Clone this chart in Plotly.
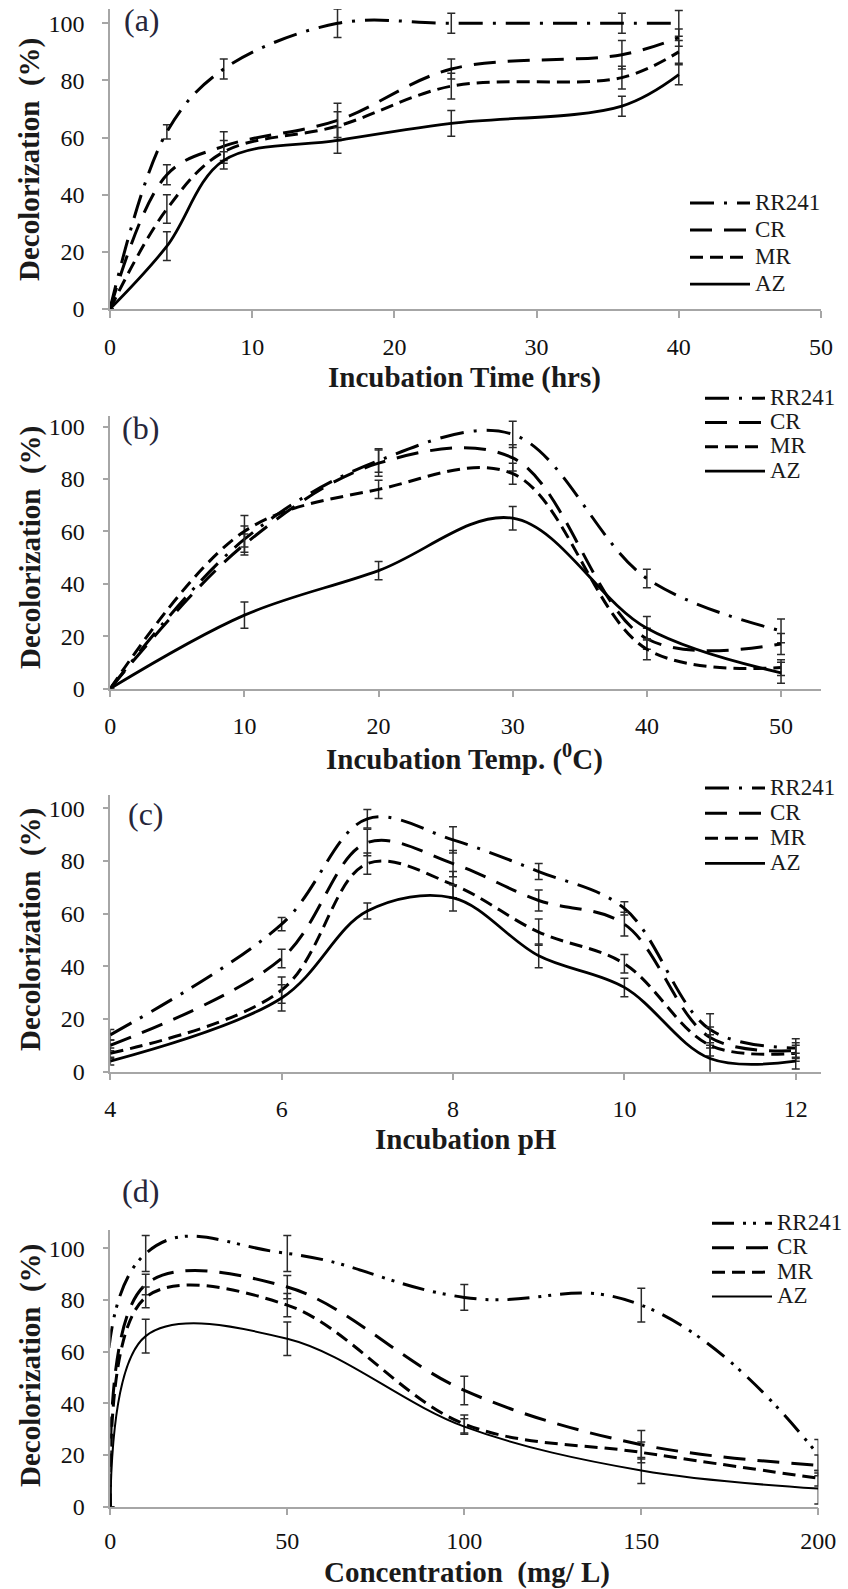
import plotly.graph_objects as go

# ---------------- data ----------------
series_names = ["RR241", "CR", "MR", "AZ"]

time_h = [0, 4, 8, 16, 24, 36, 40]
a_rr241 = [0, 62, 84, 100, 100, 100, 100]
a_rr241_err = [None, 2.5, 3.5, 5, 3.5, 3.5, 4.5]
a_cr = [0, 47, 57, 66, 84, 89, 95]
a_cr_err = [None, 3.5, 5, 6, 3.5, 5, 3]
a_mr = [0, 35, 55, 64, 78, 81, 90]
a_mr_err = [None, 5, 4, 5, 4.5, 4, 4]
a_az = [0, 22, 52, 59, 65, 71, 82]
a_az_err = [None, 5, 3, 4.5, 4.5, 3.5, 3.5]

temp_c = [0, 10, 20, 30, 40, 50]
b_rr241 = [0, 57, 87, 97, 42, 22]
b_rr241_err = [None, 5, 4.5, 5, 3.5, 4.5]
b_cr = [0, 55, 86, 88, 19, 17]
b_cr_err = [None, 4, 5, 5, 4, 4]
b_mr = [0, 60, 76, 82, 15, 8]
b_mr_err = [None, 6, 3.5, 4, 4, 3]
b_az = [0, 28, 45, 65, 23, 6]
b_az_err = [None, 5, 3.5, 4.5, 4.5, 4]

ph = [4, 6, 7, 8, 9, 10, 11, 12]
c_rr241 = [14, 56, 96, 88, 76, 62, 16, 9]
c_rr241_err = [2, 2.5, 3.5, 5, 3, 2.5, 6, 3.5]
c_cr = [10, 43, 87, 79, 65, 56, 13, 8]
c_cr_err = [2, 3.5, 5, 5, 4, 4.5, 4, 3]
c_mr = [7, 31, 79, 71, 53, 41, 10, 7]
c_mr_err = [2, 5, 4, 5, 5, 3.5, 4, 3]
c_az = [4, 28, 61, 66, 44, 32, 5, 4]
c_az_err = [1.5, 5, 3, 5, 4.5, 3.5, 6, 3]

conc = [0, 10, 50, 100, 150, 200]
d_rr241 = [0, 98, 98, 81, 78, 20]
d_rr241_err = [None, 7, 7, 5, 6.5, 6]
d_cr = [0, 86, 85, 45, 24, 16]
d_cr_err = [None, 4, 4.5, 5.5, 5.5, 4]
d_mr = [0, 81, 78, 32, 21, 11]
d_mr_err = [None, 4, 4.5, 3.5, 4, 3]
d_az = [0, 66, 65, 31, 14, 7]
d_az_err = [None, 6.5, 6.5, 3, 5, 6]

panel_labels = ["(a)", "(b)", "(c)", "(d)"]
x_titles = ["Incubation Time (hrs)", "Incubation Temp. (<sup>0</sup>C)",
            "Incubation pH", "Concentration  (mg/ L)"]
y_title = "Decolorization  (%)"

# ---------------- layout geometry (pixels) ----------------
W, H = 848, 1589
SERIF = "Liberation Serif"

panels = [
    dict(x=time_h, ys=[a_rr241, a_cr, a_mr, a_az], es=[a_rr241_err, a_cr_err, a_mr_err, a_az_err],
         xl=110, xr=821, xrange=[0, 50], dtick=10, tick0=0,
         ybot=309, ppu=2.857, ymax=105, xstand=8, azw=2.8,
         leg=(685, 184.5, 18.5), lab=(142, 20), xt=(464, 378), yt=160,
         rrdash="24px,10px,3px,10px", rrsmooth=1.0),
    dict(x=temp_c, ys=[b_rr241, b_cr, b_mr, b_az], es=[b_rr241_err, b_cr_err, b_mr_err, b_az_err],
         xl=110.3, xr=820.6, xrange=[0, 52.95], dtick=10, tick0=0,
         ybot=688.5, ppu=2.62, ymax=104, xstand=8, azw=2.8,
         leg=(700, 381, 16.4), lab=(140, 428), xt=(465, 757), yt=548,
         rrdash="24px,10px,3px,10px", rrsmooth=1.0),
    dict(x=ph, ys=[c_rr241, c_cr, c_mr, c_az], es=[c_rr241_err, c_cr_err, c_mr_err, c_az_err],
         xl=110.3, xr=820.6, xrange=[4, 12.29], dtick=2, tick0=4,
         ybot=1071.7, ppu=2.634, ymax=105, xstand=8, azw=2.8,
         leg=(700, 770.5, 17), lab=(146, 814), xt=(466, 1139), yt=930,
         rrdash="24px,10px,3px,10px", rrsmooth=1.0),
    dict(x=conc, ys=[d_rr241, d_cr, d_mr, d_az], es=[d_rr241_err, d_cr_err, d_mr_err, d_az_err],
         xl=110.3, xr=818.3, xrange=[0, 200], dtick=50, tick0=0,
         ybot=1506.7, ppu=2.584, ymax=107, xstand=5, azw=2.0,
         leg=(707, 1206, 16.5), lab=(140, 1191), xt=(467, 1572), yt=1366,
         rrdash="22px,9px,3px,7px,3px,9px", rrsmooth=1.3),
]

dashes = [None, "22px,12px", "13px,7px", "solid"]

fig = go.Figure()
layout = dict(width=W, height=H, autosize=False,
              margin=dict(l=0, r=0, t=0, b=0, autoexpand=False),
              paper_bgcolor="white", plot_bgcolor="white",
              showlegend=True, annotations=[])

axis_common = dict(showline=True, linecolor="#a6a6a6", linewidth=1.5,
                   ticks="outside", tickcolor="#a6a6a6", tickwidth=1.5,
                   showgrid=False, zeroline=False, fixedrange=True,
                   tickfont=dict(family=SERIF, size=24, color="#111111"))

for i, p in enumerate(panels):
    k = "" if i == 0 else str(i + 1)
    xa, ya = "x" + k, "y" + k
    legname = "legend" + k
    ytop = p["ybot"] - p["ymax"] * p["ppu"]
    layout["xaxis" + k] = dict(axis_common, domain=[p["xl"] / W, p["xr"] / W],
                               range=p["xrange"], dtick=p["dtick"], tick0=p["tick0"],
                               anchor=ya, ticklen=7, ticklabelstandoff=p["xstand"])
    layout["yaxis" + k] = dict(axis_common, domain=[1 - p["ybot"] / H, 1 - ytop / H],
                               range=[0, p["ymax"]], dtick=20, tick0=0,
                               anchor=xa, ticklen=6, ticklabelstandoff=13)
    lx, ly, lfs = p["leg"]
    layout[legname] = dict(x=lx / W, y=1 - ly / H, xanchor="left", yanchor="top",
                           bgcolor="rgba(0,0,0,0)", borderwidth=0,
                           font=dict(family=SERIF, size=lfs, color="#1a1a1a"),
                           itemwidth=60, tracegroupgap=0)
    widths = [3, 3, 3, p["azw"]]
    for j, name in enumerate(series_names):
        dash = p["rrdash"] if j == 0 else dashes[j]
        smooth = p["rrsmooth"] if j == 0 else 1.0
        fig.add_trace(go.Scatter(
            x=p["x"], y=p["ys"][j], xaxis=xa, yaxis=ya,
            mode="lines", line=dict(color="black", width=widths[j], dash=dash,
                                    shape="spline", smoothing=smooth),
            error_y=dict(type="data", array=p["es"][j], visible=True,
                         color="#2a2a2a", thickness=1.5, width=4),
            name='<span style="font-size:23px">' + name + '</span>',
            legend=legname, showlegend=True))
    layout["annotations"].append(dict(
        text=panel_labels[i], xref="paper", yref="paper",
        x=p["lab"][0] / W, y=1 - p["lab"][1] / H, xanchor="center", yanchor="middle",
        showarrow=False, font=dict(family=SERIF, size=32, color="#26263a")))
    layout["annotations"].append(dict(
        text=x_titles[i], xref="paper", yref="paper",
        x=p["xt"][0] / W, y=1 - p["xt"][1] / H, xanchor="center", yanchor="middle",
        showarrow=False, font=dict(family=SERIF, size=29, color="#1a1a1a", weight="bold")))
    layout["annotations"].append(dict(
        text=y_title, xref="paper", yref="paper", textangle=-90,
        x=30 / W, y=1 - p["yt"] / H, xanchor="center", yanchor="middle",
        showarrow=False, font=dict(family=SERIF, size=29, color="#1a1a1a", weight="bold")))

fig.update_layout(**layout)
fig.write_html("out.html", config={"displayModeBar": False},
               post_script="document.body.style.margin='0';document.body.style.overflow='hidden';")
